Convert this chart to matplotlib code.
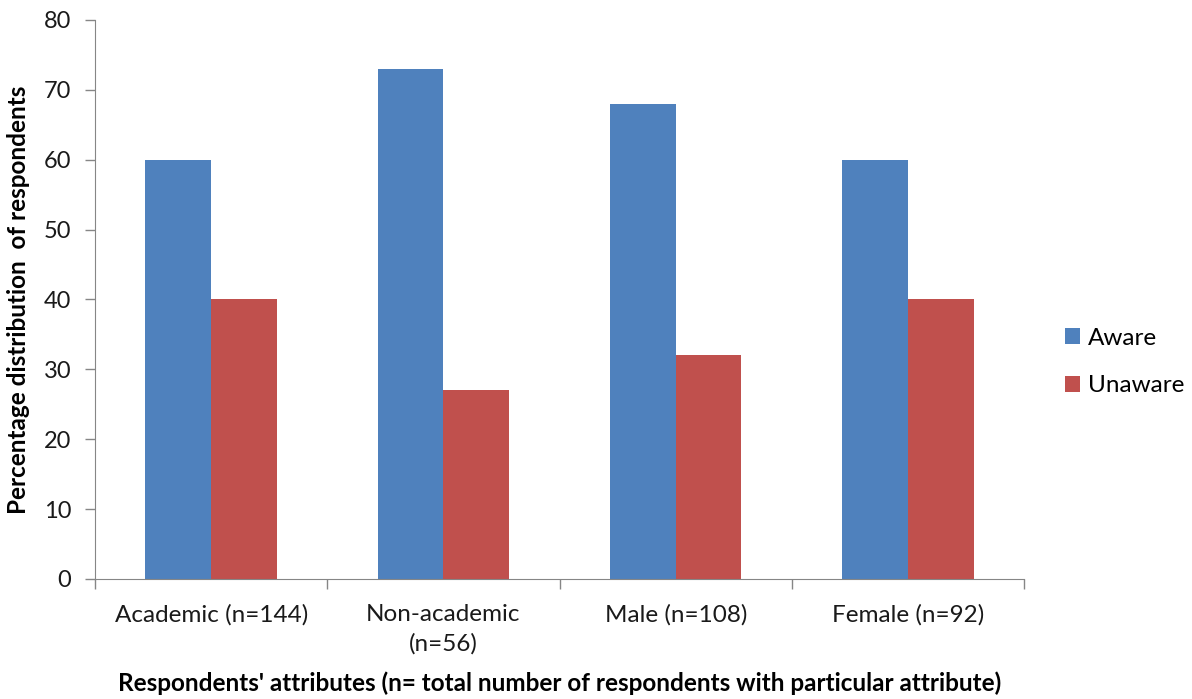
import matplotlib
matplotlib.use('Agg')
import matplotlib.pyplot as plt
import numpy as np

plt.rcParams['font.family'] = ['Lato', 'DejaVu Sans']

categories = ['Academic (n=144)', 'Non-academic\n(n=56)', 'Male (n=108)', 'Female (n=92)']
aware = [60, 73, 68, 60]
unaware = [40, 27, 32, 40]

blue = '#4F81BD'
red = '#C0504D'
axis_col = '#868686'

fig = plt.figure(figsize=(11.92, 6.99), dpi=100)
ax = fig.add_axes([0.0797, 0.1717, 0.7795, 0.7997])

x = np.arange(len(categories))
w = 0.283
ax.bar(x - w / 2, aware, w, color=blue, label='Aware')
ax.bar(x + w / 2, unaware, w, color=red, label='Unaware')

ax.set_xlim(-0.5, len(categories) - 0.5)
ax.set_ylim(0, 80)
ax.set_yticks(range(0, 81, 10))
ax.set_xticks(x)
ax.set_xticklabels(categories, fontsize=17.5, color='#1a1a1a', linespacing=1.45)
ax.set_xticks(np.arange(-0.5, len(categories), 1), minor=True)
ax.tick_params(axis='x', which='major', length=0, pad=18)
ax.tick_params(axis='x', which='minor', length=7, color=axis_col, width=1)
ax.tick_params(axis='y', length=7, color=axis_col, width=1, labelsize=17, labelcolor='#1a1a1a', pad=10)

for s in ['top', 'right']:
    ax.spines[s].set_visible(False)
for s in ['left', 'bottom']:
    ax.spines[s].set_color(axis_col)

ax.set_xlabel("Respondents' attributes (n= total number of respondents with particular attribute)",
              fontsize=17.5, fontweight='bold', labelpad=12)
ax.set_ylabel('Percentage distribution  of respondents', fontsize=17.5, fontweight='bold', labelpad=10)

ax.legend(loc='center left', bbox_to_anchor=(1.02, 0.388), frameon=False, fontsize=17.5,
          handlelength=0.65, handleheight=0.65, handletextpad=0.3, labelspacing=1.1)

fig.savefig('out.png', dpi=100)
